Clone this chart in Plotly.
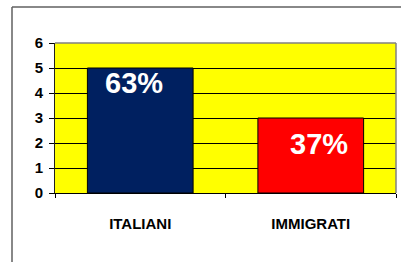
import plotly.graph_objects as go

categories = ["ITALIANI", "IMMIGRATI"]
values = [5, 3]
pct_labels = ["63%", "37%"]
bar_colors = ["#002060", "#FF0000"]
y_ticks = [0, 1, 2, 3, 4, 5, 6]

fig = go.Figure()
fig.add_trace(go.Bar(
    x=categories, y=values,
    marker=dict(color=bar_colors, line=dict(color="#000000", width=1)),
    width=0.62,
    hoverinfo="skip",
))

shifts = [(-6, -15), (8, -26)]
for cat, v, lab, (dx, dy) in zip(categories, values, pct_labels, shifts):
    fig.add_annotation(x=cat, y=v, text=f"<b>{lab}</b>", showarrow=False,
                       xshift=dx, yshift=dy, yanchor="middle",
                       font=dict(family="Liberation Sans", size=29, color="white", weight=700))

bx0 = (12 - 55) / 341
by1 = (193 - 7) / 150
fig.update_layout(
    width=401, height=262,
    margin=dict(l=55, r=5, t=43, b=69),
    paper_bgcolor="white", plot_bgcolor="#FFFF00",
    showlegend=False,
    font=dict(family="Liberation Sans", color="black"),
    xaxis=dict(
        automargin=False,
        tickvals=categories, ticktext=[f"<b>{c}</b>" for c in categories],
        showline=True, linecolor="black", linewidth=1,
        ticks="outside", tickson="boundaries", ticklen=4, tickcolor="black",
        tickfont=dict(size=15, family="Liberation Sans", weight=700),
        ticklabelstandoff=17,
        showgrid=False,
    ),
    yaxis=dict(
        automargin=False,
        range=[0, 6], tickvals=y_ticks, ticktext=[f"<b>{t}</b>" for t in y_ticks],
        showline=True, linecolor="#202020", linewidth=1,
        ticks="outside", ticklen=5, tickcolor="black",
        tickfont=dict(size=15, family="Liberation Sans", weight=700),
        ticklabelstandoff=3,
        showgrid=True, gridcolor="black", gridwidth=1,
        zeroline=False,
    ),
    shapes=[
        dict(type="line", xref="paper", yref="paper", x0=0, x1=1, y0=1, y1=1,
             line=dict(color="#808080", width=1.5)),
        dict(type="line", xref="paper", yref="paper", x0=1, x1=1, y0=0, y1=1,
             line=dict(color="#808080", width=1.5)),
        dict(type="line", xref="paper", yref="paper",
             x0=bx0, x1=(420 - 55) / 341, y0=by1, y1=by1,
             line=dict(color="#606060", width=1.5)),
        dict(type="line", xref="paper", yref="paper",
             x0=bx0, x1=bx0, y0=(193 - 280) / 150, y1=by1,
             line=dict(color="#606060", width=1.5)),
    ],
)

fig.write_html("out.html", config={"displayModeBar": False},
               post_script="document.body.style.margin='0';document.body.style.padding='0';")
